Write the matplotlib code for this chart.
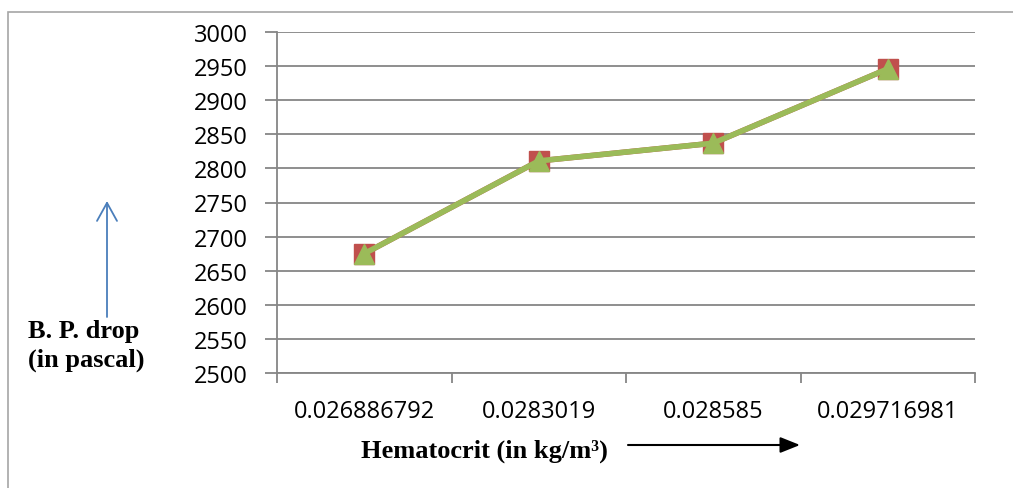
import matplotlib
matplotlib.use('Agg')
import matplotlib.pyplot as plt
from matplotlib.patches import Rectangle

# data
hematocrit = ['0.026886792', '0.0283019', '0.028585', '0.029716981']
bp_drop = [2675, 2811, 2837, 2946]
y_ticks = list(range(2500, 3001, 50))

W, H = 1013, 489
fig = plt.figure(figsize=(W / 100, H / 100), dpi=100)
ax = fig.add_axes([277 / W, 115 / H, 698 / W, 341 / H])

x = list(range(len(hematocrit)))
ax.plot(x, bp_drop, color='#C0504D', lw=4, marker='s', ms=15, zorder=3)
ax.plot(x, bp_drop, color='#9BBB59', lw=4, marker='^', ms=15, zorder=4)

ax.set_ylim(2500, 3000)
ax.set_xlim(-0.5, len(hematocrit) - 0.5)
ax.set_yticks(y_ticks)
ax.set_yticklabels([str(v) for v in y_ticks], family='Open Sans', fontsize=17)
ax.grid(axis='y', color='#868686', lw=1.3)
ax.set_axisbelow(True)

# category boundaries as major ticks, labels on minor ticks
ax.set_xticks([i - 0.5 for i in range(len(hematocrit) + 1)])
ax.set_xticklabels([])
ax.set_xticks(x, minor=True)
ax.set_xticklabels(hematocrit, minor=True, family='Open Sans', fontsize=17)
ax.tick_params(axis='x', which='major', length=7, width=1.3, color='#868686')
ax.tick_params(axis='x', which='minor', length=0, pad=19)
ax.tick_params(axis='y', length=9, width=1.3, color='#868686', pad=12)

for s in ['top', 'right']:
    ax.spines[s].set_visible(False)
for s in ['left', 'bottom']:
    ax.spines[s].set_color('#868686')
    ax.spines[s].set_linewidth(1.3)

# axis labels drawn as free text, like in the original
fig.text(28 / W, 1 - 338 / H, 'B. P. drop', family='Liberation Serif', weight='bold',
         fontsize=19, ha='left', va='baseline')
fig.text(28 / W, 1 - 367 / H, '(in pascal)', family='Liberation Serif', weight='bold',
         fontsize=19, ha='left', va='baseline')
fig.text(484 / W, 1 - 458 / H, 'Hematocrit (in kg/m\u00b3)', family='Liberation Serif',
         weight='bold', fontsize=19, ha='center', va='baseline')

ax.annotate('', xy=(107, H - 202), xytext=(107, H - 318), xycoords='figure pixels',
            arrowprops=dict(arrowstyle='->,head_length=0.65,head_width=0.36', mutation_scale=20,
                            color='#4A7EBB', lw=1.3, shrinkA=0, shrinkB=0))
ax.annotate('', xy=(800, H - 446), xytext=(628, H - 446), xycoords='figure pixels',
            arrowprops=dict(arrowstyle='-|>,head_length=0.6,head_width=0.24', mutation_scale=20,
                            color='black', lw=1.5, shrinkA=0, shrinkB=0))

# outer frame
fig.add_artist(Rectangle((8 / W, -0.1), 1.2, (H - 13) / H + 0.1, transform=fig.transFigure,
                         fill=False, edgecolor='#A6A6A6', lw=1.2, clip_on=False))

fig.savefig('out.png', dpi=100)
